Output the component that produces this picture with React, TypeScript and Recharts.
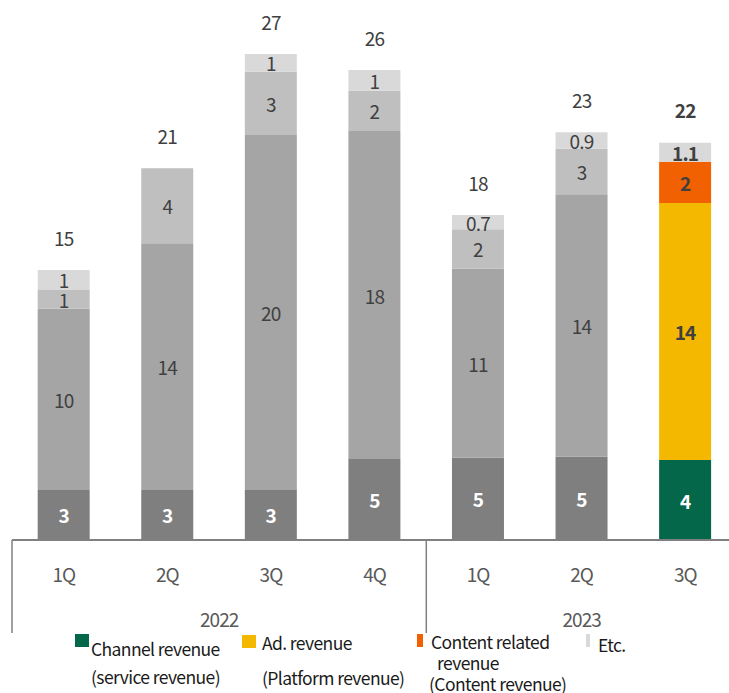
import React from 'react';
import { ComposedChart, Bar, Line, XAxis, YAxis, LabelList, Cell, Legend } from 'recharts';

// ---- data ----
const quarters = ['1Q', '2Q', '3Q', '4Q', '1Q', '2Q', '3Q'];
const years = ['2022', '2023'];
const yearStartIndex = [0, 4];
const yearSpan = [4, 3];

// segment sizes
const channelRevenue = [2.78, 2.78, 2.78, 4.5, 4.57, 4.63, 4.44];
const adRevenue = [10.07, 13.7, 19.72, 18.22, 10.5, 14.58, 14.28];
const contentRevenue = [1.04, 4.17, 3.52, 2.24, 2.2, 2.53, 2.29];
const etcRevenue = [1.11, 0, 0.98, 1.15, 0.78, 0.91, 1.06];

// labels printed on the chart
const channelLabels = ['3', '3', '3', '5', '5', '5', '4'];
const adLabels = ['10', '14', '20', '18', '11', '14', '14'];
const contentLabels = ['1', '4', '3', '2', '2', '3', '2'];
const etcLabels = ['1', '', '1', '1', '0.7', '0.9', '1.1'];
const totalLabels = ['15', '21', '27', '26', '18', '23', '22'];

const seriesNames = ['Channel revenue', 'Ad. revenue', 'Content related revenue', 'Etc.'];

const data = quarters.map((q, i) => ({
  q,
  channel: channelRevenue[i],
  ad: adRevenue[i],
  content: contentRevenue[i],
  etc: etcRevenue[i],
  total: channelRevenue[i] + adRevenue[i] + contentRevenue[i] + etcRevenue[i],
}));

// ---- styles ----
const HIGHLIGHT = 6;
const GRAY = { channel: '#7F7F7F', ad: '#A5A5A5', content: '#BFBFBF', etc: '#D9D9D9' };
const COLOR = { channel: '#05674A', ad: '#F5B800', content: '#F26101', etc: '#D9D9D9' };
const FONT = "'Noto Sans CJK KR', 'Noto Sans', sans-serif";
const CHART_W = 740;
const CHART_H = 693;
const M = { top: 0, right: 3, left: 12, bottom: 0 };
const PLOT_W = CHART_W - M.left - M.right;
const BAND = PLOT_W / quarters.length;

const catIndex = (cx: number) => Math.floor((cx - M.left) / BAND);

const segLabel = (labels: string[], fill: string, baseWeight: number) => (props: any) => {
  const { x, y, width, height } = props;
  const cx = Number(x) + Number(width) / 2;
  const idx = catIndex(cx);
  const t = labels[idx];
  if (!t || !Number(height)) return null;
  const bold = idx === HIGHLIGHT ? 700 : baseWeight;
  return (
    <text
      x={cx}
      y={Number(y) + Number(height) / 2}
      textAnchor="middle"
      dominantBaseline="central"
      fill={fill}
      fontFamily={FONT}
      fontSize={19}
      fontWeight={bold}
      letterSpacing={-0.8}
    >
      {t}
    </text>
  );
};

const totalLabel = (props: any) => {
  const { x, y } = props;
  const idx = catIndex(Number(x));
  const t = totalLabels[idx];
  return (
    <text
      x={Number(x)}
      y={Number(y) - 33}
      textAnchor="middle"
      dominantBaseline="central"
      fill="#404040"
      fontFamily={FONT}
      fontSize={19}
      fontWeight={idx === HIGHLIGHT ? 700 : 400}
      letterSpacing={-0.8}
    >
      {t}
    </text>
  );
};

const QuarterTick = (props: any) => {
  const { x, y, payload, index } = props;
  const yi = yearStartIndex.indexOf(index);
  return (
    <g>
      <text
        x={x}
        y={y + 33}
        textAnchor="middle"
        dominantBaseline="central"
        fill="#595959"
        fontFamily={FONT}
        fontSize={19}
        letterSpacing={-1}
      >
        {payload.value}
      </text>
      {yi >= 0 && (
        <g>
          <line x1={x - BAND / 2} x2={x - BAND / 2} y1={y} y2={y + 93} stroke="#808080" strokeWidth={1.5} />
          <text
            x={x - BAND / 2 + (BAND * yearSpan[yi]) / 2}
            y={y + 78}
            textAnchor="middle"
            dominantBaseline="central"
            fill="#595959"
            fontFamily={FONT}
            fontSize={19}
            letterSpacing={-1}
          >
            {years[yi]}
          </text>
        </g>
      )}
    </g>
  );
};

const legendText: React.CSSProperties = {
  position: 'absolute',
  fontFamily: FONT,
  fontSize: 17.5,
  lineHeight: '18px',
  color: '#1a1a1a',
  letterSpacing: -0.6,
  whiteSpace: 'nowrap',
};

const LegendContent = () => (
  <div style={{ position: 'relative', width: 729, height: 693 }}>
    <div style={{ position: 'absolute', left: 75, top: 634, width: 14, height: 13, background: COLOR.channel }} />
    <div style={{ ...legendText, left: 91, top: 640 }}>{seriesNames[0]}</div>
    <div style={{ ...legendText, left: 91, top: 668 }}>(service revenue)</div>

    <div style={{ position: 'absolute', left: 242, top: 635, width: 14, height: 13, background: COLOR.ad }} />
    <div style={{ ...legendText, left: 262, top: 634 }}>{seriesNames[1]}</div>
    <div style={{ ...legendText, left: 262, top: 669 }}>(Platform revenue)</div>

    <div style={{ position: 'absolute', left: 417, top: 634, width: 6, height: 13, background: COLOR.content }} />
    <div style={{ ...legendText, left: 431, top: 633 }}>Content related</div>
    <div style={{ ...legendText, left: 437, top: 654 }}>revenue</div>
    <div style={{ ...legendText, left: 429, top: 675 }}>(Content revenue)</div>

    <div style={{ position: 'absolute', left: 586, top: 634, width: 4, height: 13, background: COLOR.etc }} />
    <div style={{ ...legendText, left: 598, top: 636 }}>{seriesNames[3]}</div>
  </div>
);

export default function App() {
  return (
    <div style={{ position: 'absolute', left: 0, top: 0, width: 729, height: 693, overflow: 'hidden', background: '#fff' }}>
      <ComposedChart width={CHART_W} height={CHART_H} data={data} margin={M} barCategoryGap="24.8%">
        <XAxis
          dataKey="q"
          height={CHART_H - 540}
          axisLine={{ stroke: '#808080', strokeWidth: 2 }}
          tickLine={false}
          tickSize={0}
          tickMargin={0}
          interval={0}
          tick={<QuarterTick />}
        />
        <YAxis hide domain={[0, 30]} />
        <Legend
          layout="horizontal"
          verticalAlign="middle"
          align="center"
          wrapperStyle={{ left: 0, top: 0, width: 729, height: 693, pointerEvents: 'none' }}
          content={<LegendContent />}
        />
        <Bar dataKey="channel" name={seriesNames[0]} stackId="a" isAnimationActive={false}>
          {data.map((_, i) => (
            <Cell key={i} fill={i === HIGHLIGHT ? COLOR.channel : GRAY.channel} />
          ))}
          <LabelList dataKey="channel" content={segLabel(channelLabels, '#FFFFFF', 700)} />
        </Bar>
        <Bar dataKey="ad" name={seriesNames[1]} stackId="a" isAnimationActive={false}>
          {data.map((_, i) => (
            <Cell key={i} fill={i === HIGHLIGHT ? COLOR.ad : GRAY.ad} />
          ))}
          <LabelList dataKey="ad" content={segLabel(adLabels, '#404040', 400)} />
        </Bar>
        <Bar dataKey="content" name={seriesNames[2]} stackId="a" isAnimationActive={false}>
          {data.map((_, i) => (
            <Cell key={i} fill={i === HIGHLIGHT ? COLOR.content : GRAY.content} />
          ))}
          <LabelList dataKey="content" content={segLabel(contentLabels, '#404040', 400)} />
        </Bar>
        <Bar dataKey="etc" name={seriesNames[3]} stackId="a" isAnimationActive={false}>
          {data.map((_, i) => (
            <Cell key={i} fill={i === HIGHLIGHT ? COLOR.etc : GRAY.etc} />
          ))}
          <LabelList dataKey="etc" content={segLabel(etcLabels, '#404040', 400)} />
        </Bar>
        <Line
          dataKey="total"
          stroke="none"
          dot={false}
          activeDot={false}
          legendType="none"
          isAnimationActive={false}
        >
          <LabelList dataKey="total" content={totalLabel} />
        </Line>
      </ComposedChart>
    </div>
  );
}
